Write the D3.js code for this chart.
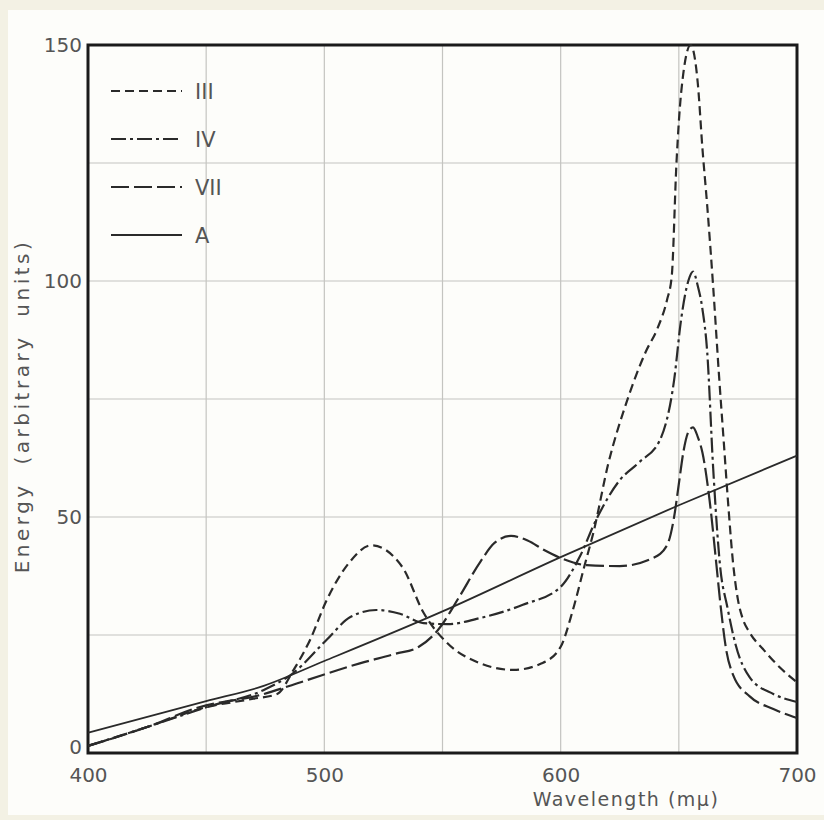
<!DOCTYPE html>
<html>
<head>
<meta charset="utf-8">
<script src="https://cdn.jsdelivr.net/npm/d3@7"></script>
<style>
  body { margin: 0; background: #f3f1e4; }
  svg { display: block; }
  text { font-family: "DejaVu Sans", sans-serif; fill: #555; }
</style>
</head>
<body>
<div id="chart"></div>
<script>
// series III (short dashes)
const waveIII = [400, 425, 450, 470, 480, 487, 494, 501, 510, 520, 533, 542, 552, 566, 580, 592, 600, 605, 610, 614, 620, 628, 636, 641, 645, 647, 649, 651, 655, 658, 660, 662, 664.5, 667, 669, 671, 673, 675, 677, 680, 686, 693, 700];
const energyIII = [1.5, 5.5, 9.7, 11.5, 12.5, 17.6, 24, 32.4, 40, 44, 39.4, 29.7, 23.3, 19, 17.6, 19, 22.5, 30, 39.5, 47, 61, 74.5, 85, 90, 96, 101, 125, 140, 150, 142, 128, 116, 99, 80, 66, 52, 40, 32.5, 28.5, 25.5, 21.8, 18, 15];

// series IV (dash-dot)
const waveIV = [400, 425, 450, 475, 487, 501, 511, 522, 532, 542, 552, 566, 584, 600, 608, 615, 625, 633, 642, 648, 651, 654, 656, 658, 660, 662, 664.5, 667.5, 670.5, 674, 680, 690, 700];
const energyIV = [1.5, 5.5, 9.7, 13.5, 17, 24, 28.8, 30.3, 29.5, 27.5, 27.3, 28.6, 31.4, 35.2, 41.5, 49.4, 57.8, 61.5, 66.3, 79, 92, 100, 102, 99, 94, 85, 60.6, 39.4, 31, 23, 16, 12.5, 10.8];

// series VII (long dashes)
const waveVII = [400, 425, 447, 473, 490, 515, 530, 540, 548, 557, 566, 572, 579, 586, 593, 600, 611, 625, 639, 645, 648, 650, 652, 654, 656, 658, 660, 663, 666, 667.5, 670, 673, 680, 690, 700];
const energyVII = [1.5, 5.5, 9.7, 12.3, 15, 19, 21, 22.5, 26, 33, 40.5, 44.5, 46, 45, 43, 41.3, 39.8, 39.6, 41.3, 44, 50, 57, 64, 68, 69, 67, 63.6, 53.6, 39.4, 32, 22, 16.5, 12, 9.3, 7.4];

// series A (solid)
const waveA = [400, 450, 473, 500, 550, 600, 650, 700];
const energyA = [4.3, 11, 14, 19.5, 30, 41.5, 52.5, 63];

const xTicks = [400, 500, 600, 700];
const yTicks = [0, 50, 100, 150];
const xGrid = [450, 500, 550, 600, 650];
const yGrid = [25, 50, 75, 100, 125];

const width = 824;
const height = 820;
const margin = { left: 88, right: 27, top: 45, bottom: 67 };

const svg = d3.select("#chart")
    .append("svg")
    .attr("width", width)
    .attr("height", height);

// paper
svg.append("rect")
    .attr("x", 8)
    .attr("y", 10)
    .attr("width", width - 8)
    .attr("height", 805)
    .attr("fill", "#fdfdfa");

const x = d3.scaleLinear()
    .domain([400, 700])
    .range([margin.left, width - margin.right]);

const y = d3.scaleLinear()
    .domain([0, 150])
    .range([height - margin.bottom, margin.top]);

// grid
svg.append("g")
    .selectAll("line")
    .data(xGrid)
    .enter()
    .append("line")
    .attr("x1", d => x(d))
    .attr("x2", d => x(d))
    .attr("y1", y(150))
    .attr("y2", y(0))
    .attr("stroke", "#c4c4c0")
    .attr("stroke-width", 1.2);

svg.append("g")
    .selectAll("line")
    .data(yGrid)
    .enter()
    .append("line")
    .attr("x1", x(400))
    .attr("x2", x(700))
    .attr("y1", d => y(d))
    .attr("y2", d => y(d))
    .attr("stroke", "#c4c4c0")
    .attr("stroke-width", 1.2);

// axes with text labels only
const xAxis = svg.append("g")
    .attr("transform", "translate(0," + (height - margin.bottom) + ")")
    .call(d3.axisBottom(x).tickValues(xTicks).tickSize(0).tickPadding(15));

const yAxis = svg.append("g")
    .attr("transform", "translate(" + margin.left + ",0)")
    .call(d3.axisLeft(y).tickValues(yTicks).tickSize(0).tickPadding(6));

[xAxis, yAxis].forEach(g => {
    g.select(".domain").remove();
    g.selectAll("text")
        .style("font-family", "DejaVu Sans, sans-serif")
        .style("font-size", "20px")
        .attr("fill", "#555");
});
yAxis.selectAll(".tick")
    .filter(d => d === 0)
    .select("text")
    .attr("dy", "0.0em");

// frame
svg.append("rect")
    .attr("x", x(400))
    .attr("y", y(150))
    .attr("width", x(700) - x(400))
    .attr("height", y(0) - y(150))
    .attr("fill", "none")
    .attr("stroke", "#1a1a1a")
    .attr("stroke-width", 3);

// curves
const series = [
    { name: "III", wave: waveIII, energy: energyIII, dash: "9,5", sw: 2.2 },
    { name: "IV", wave: waveIV, energy: energyIV, dash: "15,4,3,4", sw: 2.2 },
    { name: "VII", wave: waveVII, energy: energyVII, dash: "18,5", sw: 2.2 },
    { name: "A", wave: waveA, energy: energyA, dash: null, sw: 1.8 }
];

const line = d3.line()
    .x(d => x(d[0]))
    .y(d => y(d[1]))
    .curve(d3.curveMonotoneX);

series.forEach(s => {
    svg.append("path")
        .datum(d3.zip(s.wave, s.energy))
        .attr("d", line)
        .attr("fill", "none")
        .attr("stroke", "#2a2a2a")
        .attr("stroke-width", s.sw)
        .attr("stroke-dasharray", s.dash);
});

// legend
const legend = svg.append("g");
series.forEach((s, i) => {
    const ly = 91 + i * 48;
    legend.append("line")
        .attr("x1", 111)
        .attr("x2", 182)
        .attr("y1", ly)
        .attr("y2", ly)
        .attr("stroke", "#2a2a2a")
        .attr("stroke-width", s.sw)
        .attr("stroke-dasharray", s.dash);
    legend.append("text")
        .attr("x", 195)
        .attr("y", ly + 8)
        .style("font-size", "21px")
        .text(s.name);
});

// axis titles
svg.append("text")
    .attr("transform", "translate(29,406) rotate(-90)")
    .attr("text-anchor", "middle")
    .style("font-size", "20px")
    .style("letter-spacing", "3.5px")
    .style("word-spacing", "8px")
    .text("Energy (arbitrary units)");

svg.append("text")
    .attr("x", 626)
    .attr("y", 806)
    .attr("text-anchor", "middle")
    .style("font-size", "19px")
    .style("letter-spacing", "1.5px")
    .text("Wavelength (mμ)");
</script>
</body>
</html>
